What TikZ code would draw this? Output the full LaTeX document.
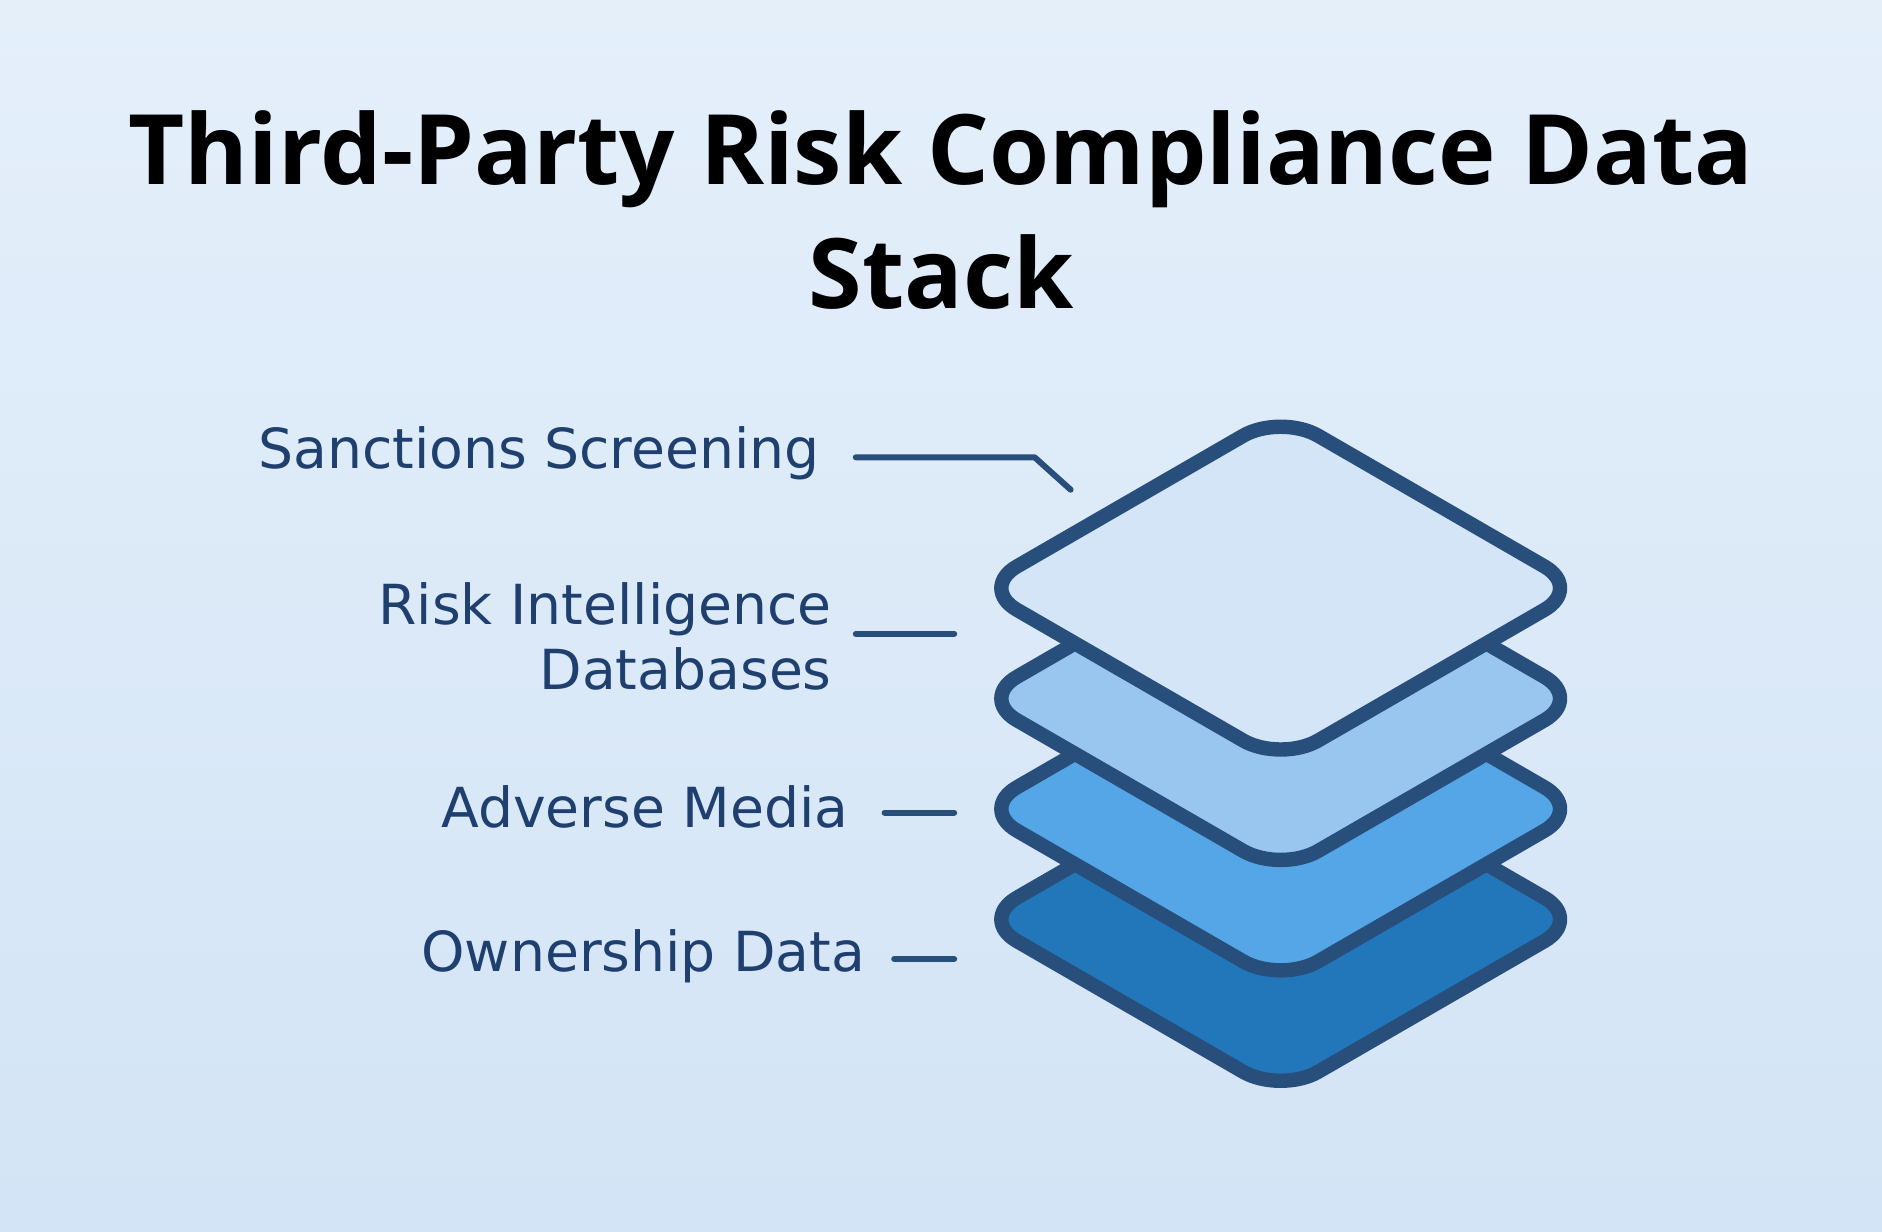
\documentclass[tikz,border=0pt]{standalone}
\usepackage{fontspec}
\setmainfont{Open Sans}
\newfontfamily\labfont{DejaVu Sans}
\definecolor{edge}{HTML}{284F7C}
\definecolor{labc}{HTML}{1F3F6E}
\definecolor{bgA}{HTML}{E4EFFA}
\definecolor{bgB}{HTML}{D3E4F6}
\definecolor{fA}{HTML}{D3E5F7}
\definecolor{fB}{HTML}{98C6EE}
\definecolor{fC}{HTML}{55A6E6}
\definecolor{fD}{HTML}{2277BB}
\tikzset{
  layer/.style={draw=edge,line width=6pt,rounded corners=18pt,line join=round},
  lab/.style={anchor=east,text=labc,font=\labfont\fontsize{23}{27}\selectfont,align=right},
  conn/.style={draw=edge,line width=2.5pt,line cap=round,line join=round}
}
\begin{document}
\begin{tikzpicture}[x=0.5pt,y=-0.5pt]
\shade[bottom color=bgB,top color=bgA] (0,0) rectangle (1568,1026);
\useasboundingbox (0,0) rectangle (1568,1026);
\node[font=\bfseries\fontsize{40.5}{52}\selectfont,align=center] (title) at (784,175) {Third-Party Risk Compliance Data\\Stack};
\foreach \dy/\c in {276/fD,184/fC,92/fB,0/fA}{
  \draw[layer,fill=\c] (1067,345+\dy) -- (1318,490+\dy) -- (1067,635+\dy) -- (816,490+\dy) -- cycle;
}
\node[lab] (l1) at (690,378) {Sanctions Screening};
\node[lab] (l2) at (700,530) {Risk Intelligence\\Databases};
\node[lab] (l3) at (714,672) {Adverse Media};
\node[lab] (l4) at (728,797) {Ownership Data};
\coordinate (c1a) at (713,381); \coordinate (c1b) at (862,381); \coordinate (c1c) at (892,408);
\coordinate (c2a) at (713,528); \coordinate (c2b) at (795,528);
\coordinate (c3a) at (737,677); \coordinate (c3b) at (795,677);
\coordinate (c4a) at (745,799); \coordinate (c4b) at (795,799);
\draw[conn] (c1a) -- (c1b) -- (c1c);
\draw[conn] (c2a) -- (c2b);
\draw[conn] (c3a) -- (c3b);
\draw[conn] (c4a) -- (c4b);
\end{tikzpicture}
\end{document}
